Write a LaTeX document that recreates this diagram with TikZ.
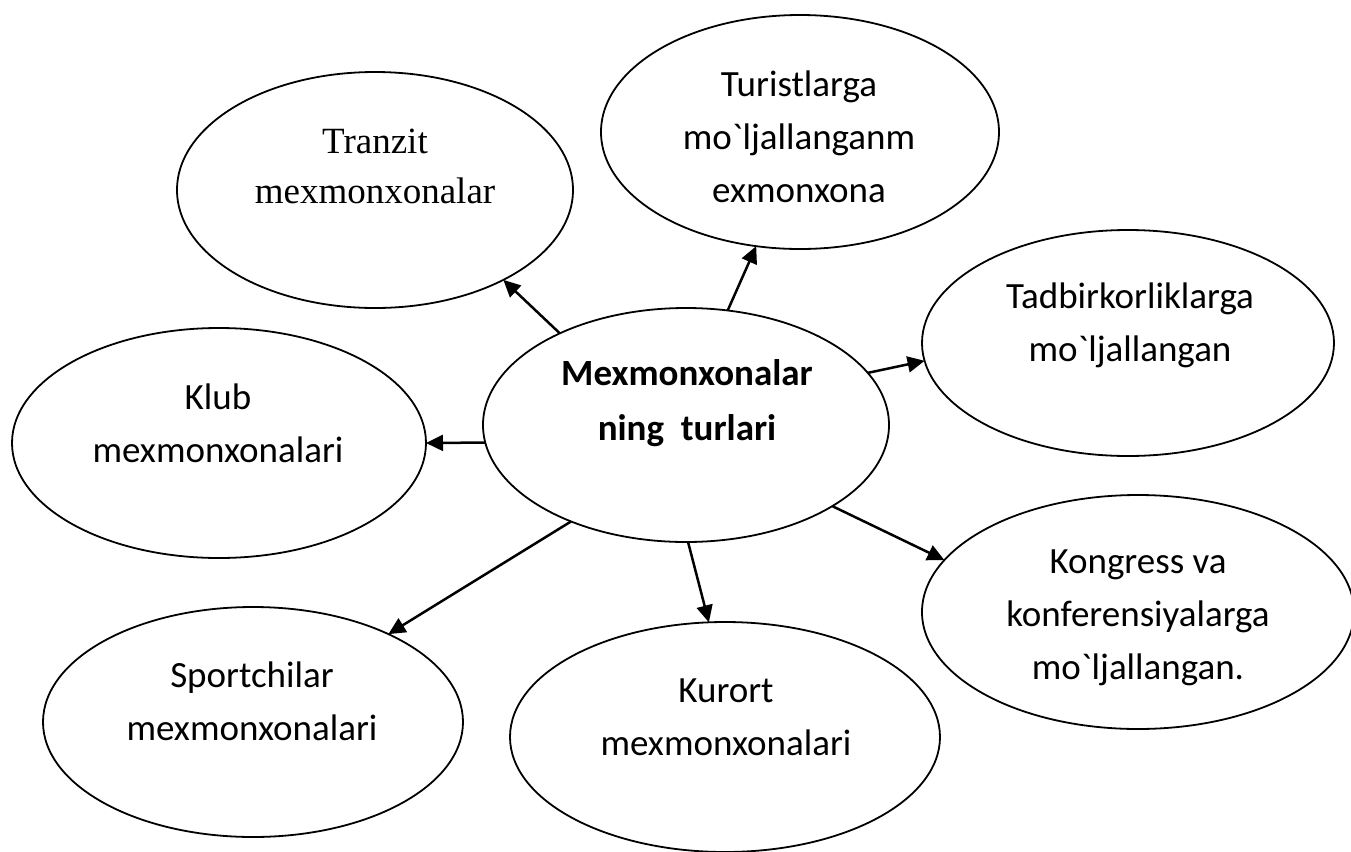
\documentclass[tikz,border=0pt]{standalone}
\usepackage{fontspec}
\setmainfont{Carlito}
\newfontfamily\timesfont{Liberation Serif}
\usetikzlibrary{arrows.meta,shapes.geometric}
\newcommand{\bq}{\textasciigrave}
\begin{document}
\begin{tikzpicture}[x=0.5pt,y=-0.5pt,
  oval/.style={draw,ellipse,line width=0.9pt,inner sep=0pt,outer sep=0pt},
  lbl/.style={align=center,font=\fontsize{18.5}{26.5}\selectfont,inner sep=0pt},
  arr/.style={-{Triangle[length=8.5pt,width=8pt]},line width=1.25pt}]
\fill[white] (0,0) rectangle (1351,852);
\useasboundingbox (0,0) rectangle (1351,852);
% ellipses
\node[oval,minimum width=198pt,minimum height=118pt] (tranzit) at (375,190) {};
\node[oval,minimum width=199pt,minimum height=117pt] (turist) at (800,132) {};
\node[oval,minimum width=206pt,minimum height=113pt] (tadbir) at (1128,343) {};
\node[oval,minimum width=203pt,minimum height=117pt] (c) at (686,425) {};
\node[oval,minimum width=207pt,minimum height=115pt] (klub) at (219,443) {};
\node[oval,minimum width=216pt,minimum height=117pt] (kongress) at (1138,612) {};
\node[oval,minimum width=215pt,minimum height=115pt] (kurort) at (725,737) {};
\node[oval,minimum width=210pt,minimum height=115pt] (sport) at (253,722) {};
% texts
\node[lbl,font=\timesfont\fontsize{18.5}{25}\selectfont] (tranzit-t) at (375,166) {Tranzit\\mexmonxonalar};
\node[lbl] (turist-t) at (799,137) {Turistlarga\\mo\bq ljallanganm\\exmonxona};
\node[lbl] (tadbir-t) at (1130,325) {Tadbirkorliklarga\\mo\bq ljallangan};
\node[lbl,font=\bfseries\fontsize{18.5}{27.5}\selectfont] (c-t) at (687,403) {Mexmonxonalar\\ning\ \ turlari};
\node[lbl] (klub-t) at (218,423) {Klub\\mexmonxonalari};
\node[lbl] (kongress-t) at (1138,618) {Kongress va\\konferensiyalarga\\mo\bq ljallangan.};
\node[lbl] (kurort-t) at (726,717) {Kurort\\mexmonxonalari};
\node[lbl] (sport-t) at (252,701) {Sportchilar\\mexmonxonalari};
% arrows
\draw[arr] (c.144) -- (tranzit.-35);
\draw[arr] (c.70) -- (turist.249);
\draw[arr] (c.16) -- (tadbir.185.5);
\draw[arr] (c.185) -- (klub.0);
\draw[arr] (c.220) -- (sport.33);
\draw[arr] (c.271) -- (kurort.98);
\draw[arr] (c.-29) -- (kongress.165.5);
\end{tikzpicture}
\end{document}
